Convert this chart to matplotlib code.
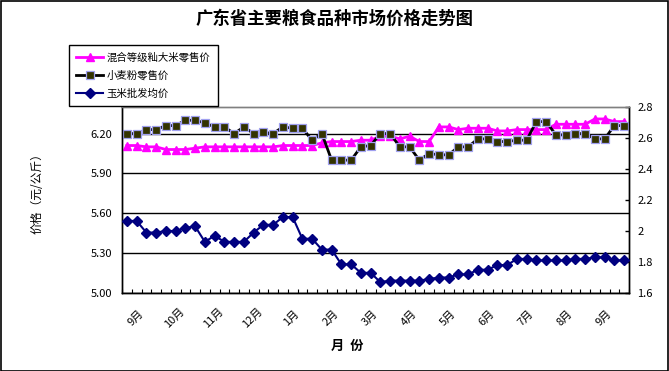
import matplotlib
matplotlib.use("Agg")
import matplotlib.pyplot as plt
from matplotlib.patches import Rectangle
from matplotlib.ticker import FuncFormatter, FixedLocator
import numpy as np

plt.rcParams['font.family'] = ['Noto Sans CJK SC', 'DejaVu Sans']

title = "广东省主要粮食品种市场价格走势图"
ylabel = "价格（元/公斤）"
xlabel = "月  份"
month_labels = ["9月", "10月", "11月", "12月", "1月", "2月", "3月", "4月", "5月", "6月", "7月", "8月", "9月"]

name_rice = "混合等级籼大米零售价"
name_flour = "小麦粉零售价"
name_corn = "玉米批发均价"

rice = [6.11, 6.11, 6.10, 6.10, 6.08, 6.08, 6.08, 6.09, 6.10, 6.10,
        6.10, 6.10, 6.10, 6.10, 6.10, 6.10, 6.11, 6.11, 6.11, 6.11,
        6.13, 6.14, 6.14, 6.14, 6.15, 6.15, 6.18, 6.18, 6.16, 6.18,
        6.14, 6.14, 6.25, 6.25, 6.23, 6.24, 6.24, 6.24, 6.22, 6.22,
        6.23, 6.23, 6.23, 6.23, 6.27, 6.27, 6.27, 6.27, 6.31, 6.31,
        6.29, 6.29]

flour = [6.20, 6.20, 6.23, 6.23, 6.26, 6.26, 6.30, 6.30, 6.28, 6.25,
         6.25, 6.20, 6.25, 6.20, 6.21, 6.20, 6.25, 6.24, 6.24, 6.15,
         6.20, 6.00, 6.00, 6.00, 6.10, 6.11, 6.20, 6.20, 6.10, 6.10,
         6.00, 6.05, 6.04, 6.04, 6.10, 6.10, 6.16, 6.16, 6.14, 6.14,
         6.15, 6.15, 6.29, 6.29, 6.19, 6.19, 6.20, 6.20, 6.16, 6.16,
         6.26, 6.26]

corn = [2.065, 2.065, 1.99, 1.99, 2.00, 2.00, 2.02, 2.03, 1.93, 1.97,
        1.93, 1.93, 1.93, 1.99, 2.04, 2.04, 2.09, 2.09, 1.95, 1.95,
        1.88, 1.88, 1.785, 1.785, 1.73, 1.73, 1.67, 1.68, 1.68, 1.68,
        1.68, 1.69, 1.70, 1.70, 1.72, 1.72, 1.75, 1.75, 1.78, 1.78,
        1.82, 1.82, 1.81, 1.81, 1.81, 1.81, 1.82, 1.82, 1.83, 1.83,
        1.81, 1.81]

W, H = 669, 371
fig = plt.figure(figsize=(W / 100, H / 100), dpi=100)
fig.patch.set_facecolor('white')
fig.add_artist(Rectangle((0.5 / W, 0.5 / H), 1 - 1.5 / W, 1 - 1.5 / H,
                         transform=fig.transFigure, fill=False,
                         edgecolor='black', linewidth=1.2))

L, R, T, B = 122, 629, 107, 293
ax = fig.add_axes([L / W, (H - B) / H, (R - L) / W, (B - T) / H])
ax2 = ax.twinx()

x = np.arange(len(rice))

l_rice, = ax.plot(x, rice, color='#FF00FF', lw=2, marker='^', markersize=5.5,
                  markerfacecolor='#FF00FF', markeredgecolor='#FF00FF', zorder=4)
l_flour, = ax.plot(x, flour, color='black', lw=2, marker='s', markersize=5.5,
                   markerfacecolor='#333300', markeredgecolor='#A0A0F0',
                   markeredgewidth=0.9, zorder=5)
l_corn, = ax2.plot(x, corn, color='#000080', lw=1.5, marker='D', markersize=5.5,
                   markerfacecolor='#000080', markeredgecolor='#000080', zorder=4)

ax.set_xlim(-0.5, len(rice) - 0.5)
ax.set_ylim(5.0, 6.4)
ax2.set_ylim(1.6, 2.8)

ax.set_yticks([5.0, 5.3, 5.6, 5.9, 6.2])
ax.yaxis.set_major_formatter(FuncFormatter(lambda v, p: f"{v:.2f}"))
ax.tick_params(axis='y', length=0, pad=7, labelsize=8)
ax.yaxis.grid(True, color='black', lw=1)
ax.set_axisbelow(True)

ax2.set_yticks([1.6, 1.8, 2.0, 2.2, 2.4, 2.6, 2.8])
ax2.yaxis.set_major_formatter(FuncFormatter(lambda v, p: f"{v:g}"))
ax2.tick_params(axis='y', direction='in', length=3, width=1, pad=6, labelsize=8)

label_pos = np.arange(0, len(rice), 4) + 0.9
ax.set_xticks(label_pos)
ax.set_xticklabels(month_labels, rotation=45, ha='center', va='center', fontsize=8)
ax.tick_params(axis='x', which='major', length=0, pad=18)
ax.xaxis.set_minor_locator(FixedLocator(np.arange(-0.5, len(rice), 1.0)))
ax.tick_params(axis='x', which='minor', direction='in', length=3, width=0.8)

for a in (ax, ax2):
    a.spines['top'].set_color('#808080')
    a.spines['left'].set_color('black')
    a.spines['right'].set_color('black')
    a.spines['bottom'].set_color('black')
    for s in a.spines.values():
        s.set_linewidth(1)
    a.patch.set_visible(False)

fig.text(335 / W, 1 - 19 / H, title, ha='center', va='center', fontsize=12.5, fontweight='bold')
fig.text(37 / W, 1 - 191 / H, ylabel, ha='center', va='center', rotation=90, fontsize=8.5)
fig.text(347 / W, 1 - 346 / H, xlabel, ha='center', va='center', fontsize=9.5, fontweight='bold')

leg = fig.legend([l_rice, l_flour, l_corn], [name_rice, name_flour, name_corn],
                 loc='upper left', bbox_to_anchor=(69 / W, 1 - 45 / H),
                 bbox_transform=fig.transFigure, fontsize=7.5, frameon=True,
                 fancybox=False, edgecolor='black', framealpha=1,
                 handlelength=2.6, handletextpad=0.3, labelspacing=0.75,
                 borderpad=0.7, borderaxespad=0)
leg.get_frame().set_linewidth(1)

fig.savefig("out.png", dpi=100)
